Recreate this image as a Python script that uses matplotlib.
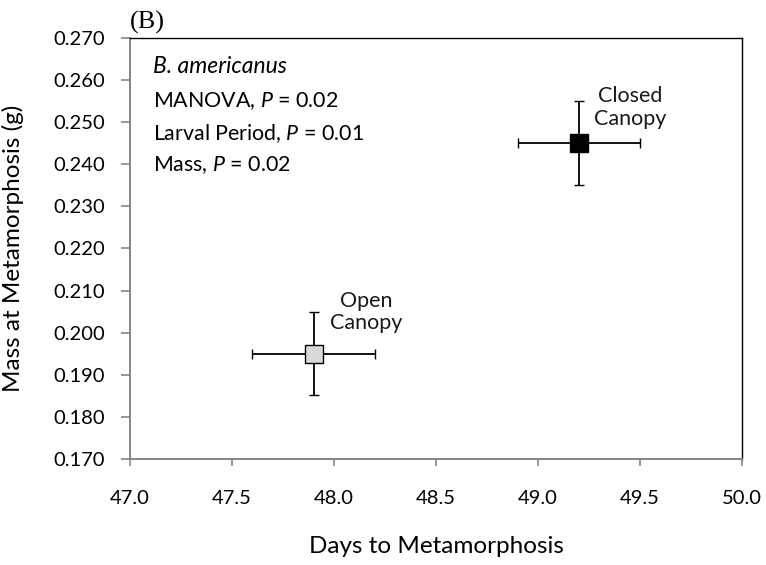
import matplotlib
matplotlib.use("Agg")
import matplotlib.pyplot as plt

plt.rcParams["font.family"] = ["Lato", "DejaVu Sans"]
plt.rcParams["mathtext.fontset"] = "custom"
plt.rcParams["mathtext.it"] = "Lato:italic"
plt.rcParams["mathtext.rm"] = "Lato"

# data
groups = ["Open\nCanopy", "Closed\nCanopy"]
days = [47.9, 49.2]
days_err = [0.3, 0.3]
mass = [0.195, 0.245]
mass_err = [0.0099, 0.0100]
face_colors = ["#d9d9d9", "#000000"]
label_pos = [(48.16, 0.2049), (49.45, 0.2535)]

species = "B. americanus"
stats_lines = [
    "MANOVA, $P$ = 0.02",
    "Larval Period, $P$ = 0.01",
    "Mass, $P$ = 0.02",
]
stats_y = [0.849, 0.774, 0.698]

fig = plt.figure(figsize=(7.66, 5.65), dpi=100)
ax = fig.add_axes([130 / 766, 106 / 565, 612 / 766, 421 / 565])

for i in range(len(groups)):
    ax.errorbar(days[i], mass[i], xerr=days_err[i], yerr=mass_err[i],
                fmt="s", color="black", ecolor="black", elinewidth=1.3,
                capsize=3.6, capthick=1.3, markersize=13.5,
                markerfacecolor=face_colors[i], markeredgecolor="black",
                markeredgewidth=1.0, zorder=3)
    ax.text(label_pos[i][0], label_pos[i][1], groups[i], ha="center",
            va="center", fontsize=15.5, linespacing=1.15, color="#1a1a1a")

ax.set_xlim(47.0, 50.0)
ax.set_ylim(0.170, 0.270)
ax.set_xticks([47.0, 47.5, 48.0, 48.5, 49.0, 49.5, 50.0])
ax.set_yticks([0.17 + 0.01 * k for k in range(11)])
ax.xaxis.set_major_formatter(matplotlib.ticker.FormatStrFormatter("%.1f"))
ax.yaxis.set_major_formatter(matplotlib.ticker.FormatStrFormatter("%.3f"))

for side in ["left", "bottom"]:
    ax.spines[side].set_color("#868686")
    ax.spines[side].set_linewidth(1.4)
for side in ["top", "right"]:
    ax.spines[side].set_color("black")
    ax.spines[side].set_linewidth(1.0)

ax.tick_params(axis="both", colors="#868686", labelcolor="black",
               labelsize=14.5, width=1.2, direction="out")
ax.tick_params(axis="x", length=5, pad=17)
ax.tick_params(axis="y", length=6.5, pad=11.5)

ax.set_xlabel("Days to Metamorphosis", fontsize=17.5, labelpad=21.5)
ax.set_ylabel("Mass at Metamorphosis (g)", fontsize=17.5, labelpad=21)

ax.text(0.038, 0.932, species, transform=ax.transAxes,
        fontsize=16.5, style="italic", va="center")
for k, line in enumerate(stats_lines):
    ax.text(0.038, stats_y[k], line, transform=ax.transAxes,
            fontsize=15.4, va="center")

fig.text(130 / 766, 1 - 22 / 565, "(B)", family="Liberation Serif",
         fontsize=19, va="center", ha="left")

fig.savefig("out.png", dpi=100)
